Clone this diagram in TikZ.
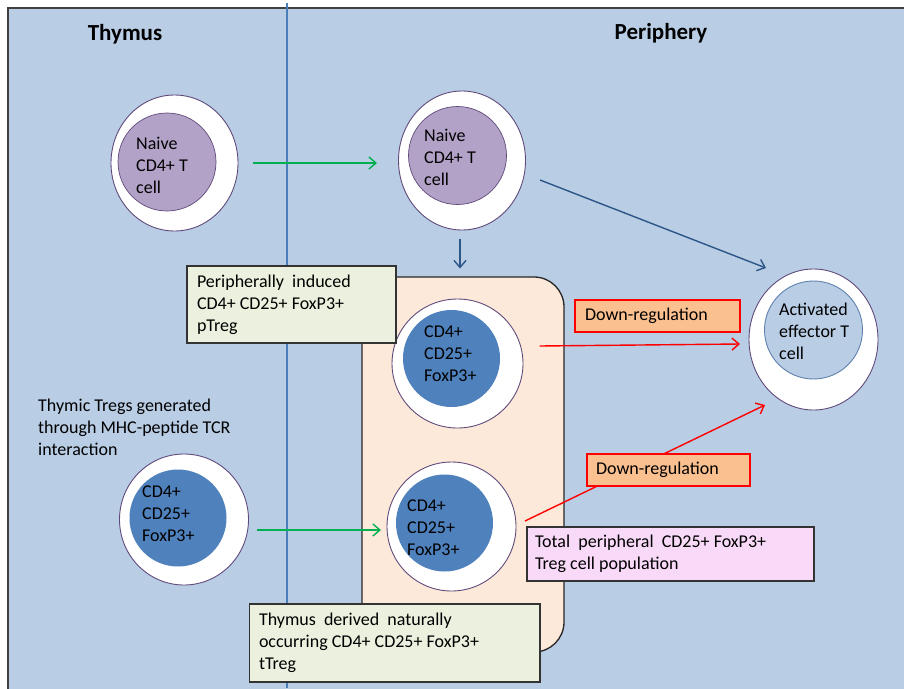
\documentclass[tikz,border=0pt]{standalone}
\usepackage{fontspec}
\setmainfont{Carlito}
\usetikzlibrary{arrows.meta,calc,shapes.geometric}
\definecolor{bgblue}{HTML}{B9CDE5}
\definecolor{naivefill}{HTML}{B3A2C7}
\definecolor{cellline}{HTML}{604A7B}
\definecolor{tregfill}{HTML}{4F81BD}
\definecolor{peach}{HTML}{FDE9D9}
\definecolor{greenbox}{HTML}{EBF1DE}
\definecolor{pinkbox}{HTML}{F8DAF8}
\definecolor{orangebox}{HTML}{FAC090}
\definecolor{arrgreen}{HTML}{00B050}
\definecolor{arrblue}{HTML}{2C5688}
\definecolor{divline}{HTML}{4A7EBB}
\definecolor{actline}{HTML}{5F82AE}
\tikzset{
  outercell/.style={ellipse, draw=cellline, line width=0.9pt, fill=white, inner sep=0pt},
  innernaive/.style={circle, draw=cellline, line width=0.7pt, fill=naivefill, minimum size=98pt, inner sep=0pt},
  innertreg/.style={circle, fill=tregfill, minimum size=97pt, inner sep=0pt},
  inneract/.style={circle, draw=actline, line width=0.9pt, fill=bgblue, minimum size=98pt, inner sep=0pt},
  tightspace/.style={execute at begin node={\spaceskip=0pt \xspaceskip=0pt }},
  celltext/.style={anchor=west, align=left, inner sep=0pt, tightspace, font=\fontsize{18}{22}\selectfont},
  header/.style={font=\fontsize{23}{26}\selectfont\bfseries, inner sep=0pt},
  labelbox/.style={draw=black!80, line width=1.3pt, align=left, tightspace, inner ysep=0pt, font=\fontsize{18}{22}\selectfont},
  downbox/.style={draw=red, line width=1.3pt, fill=orangebox, align=left, tightspace, inner ysep=0pt, font=\fontsize{18}{22}\selectfont},
  greenarrow/.style={draw=arrgreen, line width=1.4pt, -{Straight Barb[length=7pt,width=12pt]}},
  bluearrow/.style={draw=arrblue, line width=1.4pt, -{Straight Barb[length=7pt,width=12pt]}},
  redarrow/.style={draw=red, line width=1.4pt, -{Straight Barb[length=7pt,width=12pt]}},
}
\begin{document}
\begin{tikzpicture}[x=1pt,y=-1pt]
\useasboundingbox (0,0) rectangle (904,688);
% background panel
\draw[fill=bgblue, draw=black!75, line width=1.6pt] (8,8) rectangle (912,696);
\node[header] (thy) at (125,34) {Thymus};
\node[header] (peri) at (661,33) {Periphery};
% divider
\draw[divline, line width=1.4pt] (287,3) -- (287,688);
% peach region
\node[draw=black!85, line width=1.3pt, fill=peach, rounded corners=30pt, minimum width=202pt, minimum height=375pt, inner sep=0pt] (pool) at (463,464.5) {};

% cells
\node[outercell, minimum width=127pt, minimum height=136pt] (tn) at (174.5,163) {};
\node[innernaive] (tni) at (167,162) {};
\node[celltext] (tnt) at (136,165) {Naive\\CD4+ T\\cell};

\node[outercell, minimum width=127pt, minimum height=139pt] (pn) at (462,160.5) {};
\node[innernaive] (pni) at (457.5,155.5) {};
\node[celltext] (pnt) at (424,157) {Naive\\CD4+ T\\cell};

\node[outercell, minimum width=129pt, minimum height=141pt] (act) at (813.5,339.5) {};
\node[inneract] (acti) at (813.5,330) {};
\node[celltext] (actt) at (779,331) {Activated\\effector T\\cell};

\node[outercell, minimum width=131pt, minimum height=129pt] (pt) at (457.5,363.5) {};
\node[innertreg] (pti) at (451.5,358.5) {};
\node[celltext] (ptt) at (424,354) {CD4+\\CD25+\\FoxP3+};

\node[outercell, minimum width=129pt, minimum height=131pt] (tt) at (184,519.5) {};
\node[innertreg] (tti) at (178,518) {};
\node[celltext] (ttt) at (142,514) {CD4+\\CD25+\\FoxP3+};

\node[outercell, minimum width=129pt, minimum height=129pt] (pt2) at (451.5,526.5) {};
\node[innertreg] (pt2i) at (444.5,523) {};
\node[celltext] (pt2t) at (407,528) {CD4+\\CD25+\\FoxP3+};

\node[celltext] (thyreg) at (38,427) {Thymic Tregs generated\\through MHC-peptide TCR\\interaction};

% arrows
\draw[greenarrow] ($(tn)+(78.5,0)$) -- ($(pn)+(-85,2.5)$);
\draw[greenarrow] ($(tt)+(73,10.5)$) -- ($(pt2)+(-70.5,3.5)$);
\draw[bluearrow] ($(pn)+(-2,78)$) -- ($(pn)+(-2,108)$);
\draw[bluearrow] ($(pn)+(78,19.5)$) -- ($(act)+(-47.5,-71.5)$);
\draw[redarrow] ($(pt)+(82,-17.5)$) -- ($(act)+(-73.5,4.5)$);
\draw[redarrow] ($(pt2)+(73.5,-5.5)$) -- ($(act)+(-48.5,65.5)$);

% label boxes
\node[labelbox, fill=greenbox, minimum height=77pt, text width=189pt, inner xsep=10pt] (pbox) at (291.5,304.5) {Peripherally\ \ induced\\CD4+ CD25+ FoxP3+\\pTreg};
\node[labelbox, fill=greenbox, minimum height=78pt, text width=271.5pt, inner xsep=9.5pt] (tbox) at (394.75,643) {Thymus\ \ derived\ \ naturally\\occurring CD4+ CD25+ FoxP3+\\tTreg};
\node[labelbox, fill=pinkbox, minimum height=54pt, text width=271pt, inner xsep=8pt] (totbox) at (670.5,554) {Total\ \ peripheral\ \ CD25+ FoxP3+\\Treg cell population};
\node[downbox, minimum height=32pt, text width=145pt, inner xsep=10pt] (dr1) at (657.5,316) {Down-regulation};
\node[downbox, minimum height=32pt, text width=145pt, inner xsep=9pt] (dr2) at (668.5,470) {Down-regulation};
\end{tikzpicture}
\end{document}
